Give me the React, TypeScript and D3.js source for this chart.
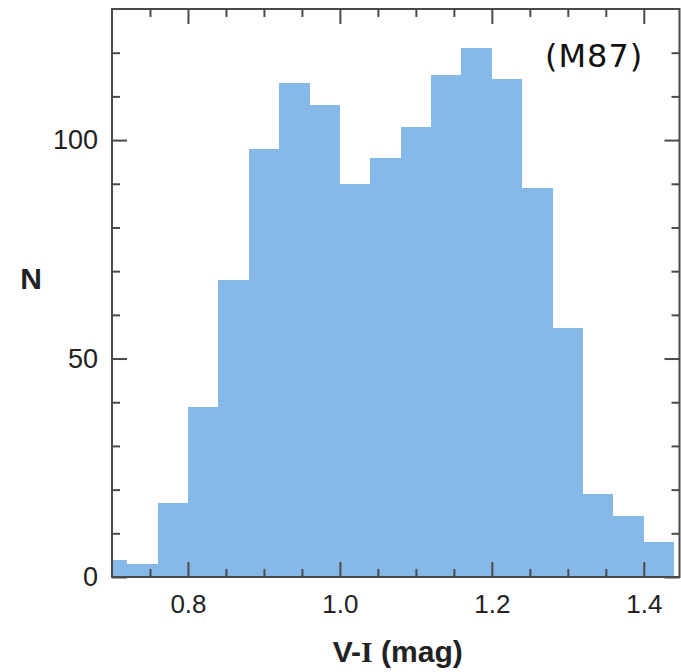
import * as d3 from "d3";
import React, { useEffect, useRef } from "react";

// histogram bins (left edge, width 0.04) and counts
const binStarts = [0.68, 0.72, 0.76, 0.8, 0.84, 0.88, 0.92, 0.96, 1.0, 1.04, 1.08, 1.12, 1.16, 1.2, 1.24, 1.28, 1.32, 1.36, 1.4];
const counts = [4, 3, 17, 39, 68, 98, 113, 108, 90, 96, 103, 115, 121, 114, 89, 57, 19, 14, 8];
const binWidth = 0.04;

const xMajor = [0.8, 1.0, 1.2, 1.4];
const xMinor = [0.75, 0.85, 0.9, 0.95, 1.05, 1.1, 1.15, 1.25, 1.3, 1.35];
const yMajor = [0, 50, 100];
const yMinor = [10, 20, 30, 40, 60, 70, 80, 90, 110, 120];

export default function App() {
    const ref = useRef<SVGSVGElement>(null);

    useEffect(() => {
        const left = 112, right = 679.5, top = 9, bottom = 577;

        const svg = d3.select(ref.current);
        svg.selectAll("*").remove();

        const x = d3.scaleLinear().domain([0.7, 1.447]).range([left, right]);
        const y = d3.scaleLinear().domain([0, 130]).range([bottom, top]);

        svg.append("defs")
            .append("clipPath")
            .attr("id", "plot-clip")
            .append("rect")
            .attr("x", left)
            .attr("y", top)
            .attr("width", right - left)
            .attr("height", bottom - top);

        // bars
        svg.append("g")
            .attr("clip-path", "url(#plot-clip)")
            .attr("shape-rendering", "crispEdges")
            .selectAll("rect")
            .data(binStarts)
            .enter()
            .append("rect")
            .attr("x", (d) => Math.round(x(d)))
            .attr("width", (d) => Math.round(x(d + binWidth)) - Math.round(x(d)))
            .attr("y", (d, i) => Math.round(y(counts[i])))
            .attr("height", (d, i) => bottom - Math.round(y(counts[i])))
            .attr("fill", "#86b8e8");

        const stroke = "#4a4a4a";
        const styleAxis = (g) => {
            g.select(".domain").remove();
            g.selectAll("line").attr("stroke", stroke).attr("stroke-width", 2);
            g.selectAll("text")
                .attr("fill", "#222")
                .style("font-family", "'Liberation Sans', Arial, sans-serif");
        };

        // bottom
        svg.append("g").attr("transform", `translate(0,${bottom})`)
            .call(d3.axisBottom(x).tickValues(xMajor).tickSize(-15).tickPadding(18).tickFormat(d3.format(".1f")))
            .call(styleAxis)
            .selectAll("text").style("font-size", "26px");
        svg.append("g").attr("transform", `translate(0,${bottom})`)
            .call(d3.axisBottom(x).tickValues(xMinor).tickSize(-8).tickFormat(() => ""))
            .call(styleAxis);
        // top
        svg.append("g").attr("transform", `translate(0,${top})`)
            .call(d3.axisTop(x).tickValues(xMajor).tickSize(-15).tickFormat(() => ""))
            .call(styleAxis);
        svg.append("g").attr("transform", `translate(0,${top})`)
            .call(d3.axisTop(x).tickValues(xMinor).tickSize(-8).tickFormat(() => ""))
            .call(styleAxis);
        // left
        svg.append("g").attr("transform", `translate(${left},0)`)
            .call(d3.axisLeft(y).tickValues(yMajor).tickSize(-15).tickPadding(14))
            .call(styleAxis)
            .selectAll("text").style("font-size", "27px");
        svg.append("g").attr("transform", `translate(${left},0)`)
            .call(d3.axisLeft(y).tickValues(yMinor).tickSize(-8).tickFormat(() => ""))
            .call(styleAxis);
        // right
        svg.append("g").attr("transform", `translate(${right},0)`)
            .call(d3.axisRight(y).tickValues(yMajor).tickSize(-15).tickFormat(() => ""))
            .call(styleAxis);
        svg.append("g").attr("transform", `translate(${right},0)`)
            .call(d3.axisRight(y).tickValues(yMinor).tickSize(-8).tickFormat(() => ""))
            .call(styleAxis);

        // frame
        svg.append("rect")
            .attr("x", left)
            .attr("y", top)
            .attr("width", right - left)
            .attr("height", bottom - top)
            .attr("fill", "none")
            .attr("stroke", stroke)
            .attr("stroke-width", 2);

        // labels
        svg.append("text")
            .attr("x", 31)
            .attr("y", 289)
            .attr("text-anchor", "middle")
            .style("font-family", "'Liberation Sans', Arial, sans-serif")
            .style("font-weight", "bold")
            .style("font-size", "30px")
            .attr("fill", "#222")
            .text("N");

        const xl = svg.append("text")
            .attr("x", (left + right) / 2 + 2)
            .attr("y", 662)
            .attr("text-anchor", "middle")
            .style("font-family", "'Liberation Sans', Arial, sans-serif")
            .style("font-weight", "bold")
            .style("font-size", "30px")
            .attr("fill", "#222");
        xl.append("tspan").text("V-");
        xl.append("tspan").style("font-family", "'Liberation Serif', 'Times New Roman', serif").text("I");
        xl.append("tspan").text(" (mag)");

        svg.append("text")
            .attr("x", 545)
            .attr("y", 67)
            .style("font-family", "'DejaVu Sans', sans-serif")
            .style("font-size", "32px")
            .style("letter-spacing", "1px")
            .attr("fill", "#111")
            .text("(M87)");
    }, []);

    return (
        <svg
            ref={ref}
            width={681}
            height={672}
            style={{ position: "absolute", left: 0, top: 0, background: "#fff" }}
        />
    );
}
